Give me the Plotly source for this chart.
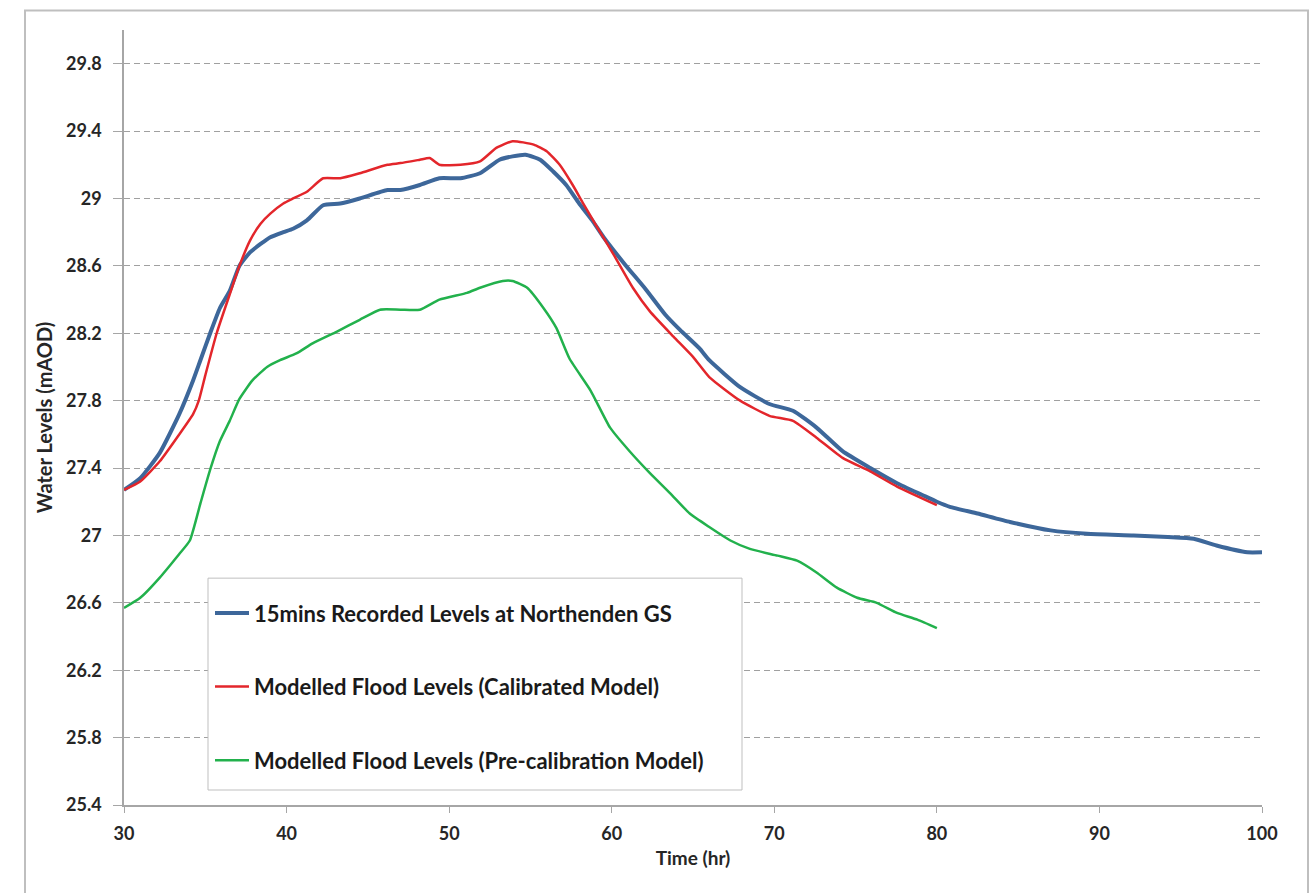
import plotly.graph_objects as go

# ---- data ----
rec_t = [30, 31, 32.2, 33.4, 34.25, 34.7, 35.3, 35.9, 36.5, 37.1, 37.75, 38.4, 39.0, 39.8,
         40.4, 41.25, 42.25, 43.3, 44.5, 46.2, 47.0, 48.2, 49.4, 50.7, 51.9, 53.1, 53.9,
         54.7, 55.6, 56.4, 57.2, 58.0, 58.8, 59.5, 60.8, 62.1, 63.3, 64.2, 65.4, 66.0,
         67.9, 69.7, 71.15, 72.6, 74.2, 75.9, 77.55, 79.1, 80.0, 80.8, 82.5, 84.5, 87.0,
         89.25, 92.1, 94.2, 95.8, 97.2, 99.1, 100]
rec_v = [27.27, 27.34, 27.49, 27.72, 27.92, 28.04, 28.20, 28.35, 28.45, 28.60, 28.68, 28.73,
         28.77, 28.80, 28.82, 28.87, 28.96, 28.97, 29.00, 29.05, 29.05, 29.08, 29.12, 29.12,
         29.15, 29.23, 29.25, 29.26, 29.23, 29.16, 29.08, 28.97, 28.87, 28.77, 28.61, 28.46,
         28.31, 28.22, 28.11, 28.04, 27.88, 27.78, 27.74, 27.64, 27.50, 27.40, 27.31, 27.24,
         27.20, 27.17, 27.13, 27.08, 27.03, 27.01, 27.00, 26.99, 26.98, 26.94, 26.90, 26.90]

cal_t = [30, 31, 32.2, 33.4, 34.25, 34.6, 35.0, 35.7, 36.5, 37.1, 37.75, 38.4, 39.0, 39.8,
         40.4, 41.25, 42.25, 43.3, 44.5, 46.2, 47.0, 48.2, 48.8, 49.4, 50.7, 51.9, 52.9,
         53.9, 55.2, 56.0, 56.8, 57.6, 58.25, 59.1, 60.1, 61.3, 62.35, 63.8, 65.0, 66.0,
         67.9, 69.7, 71.15, 72.6, 74.2, 75.9, 77.55, 80.0]
cal_v = [27.27, 27.32, 27.44, 27.60, 27.72, 27.80, 27.95, 28.20, 28.43, 28.60, 28.75, 28.85,
         28.91, 28.97, 29.00, 29.04, 29.12, 29.12, 29.15, 29.20, 29.21, 29.23, 29.24, 29.20,
         29.20, 29.22, 29.30, 29.34, 29.32, 29.28, 29.20, 29.08, 28.97, 28.83, 28.67, 28.47,
         28.33, 28.18, 28.06, 27.94, 27.80, 27.71, 27.68, 27.58, 27.46, 27.38, 27.29, 27.18]

pre_t = [30, 31.0, 32.2, 33.4, 34.05, 34.7, 35.3, 35.9, 36.5, 37.1, 37.9, 38.8, 39.6, 40.6,
         41.6, 43.1, 44.5, 45.75, 47.0, 48.2, 49.4, 51.1, 51.9, 53.3, 53.9, 54.8, 55.8,
         56.6, 57.4, 58.7, 59.9, 61.1, 62.35, 63.6, 64.8, 66.0, 67.3, 68.5, 70.2, 71.4,
         72.6, 73.85, 75.1, 76.3, 77.55, 78.8, 80.0]
pre_v = [26.57, 26.63, 26.75, 26.89, 26.97, 27.19, 27.39, 27.56, 27.68, 27.81, 27.92, 28.00,
         28.04, 28.08, 28.14, 28.21, 28.28, 28.34, 28.34, 28.34, 28.40, 28.44, 28.47, 28.51,
         28.51, 28.47, 28.35, 28.23, 28.05, 27.86, 27.64, 27.50, 27.37, 27.25, 27.13, 27.05,
         26.97, 26.92, 26.88, 26.85, 26.78, 26.69, 26.63, 26.60, 26.54, 26.50, 26.45]

y_ticks = [25.4, 25.8, 26.2, 26.6, 27.0, 27.4, 27.8, 28.2, 28.6, 29.0, 29.4, 29.8]
y_labels = ["25.4", "25.8", "26.2", "26.6", "27", "27.4", "27.8", "28.2", "28.6", "29", "29.4", "29.8"]
x_ticks = [30, 40, 50, 60, 70, 80, 90, 100]

names = ["15mins Recorded Levels at Northenden GS",
         "Modelled Flood Levels (Calibrated Model)",
         "Modelled Flood Levels (Pre-calibration Model)"]

FONT = "Lato"
TXT = "#262626"
fig = go.Figure()
fig.add_trace(go.Scatter(x=rec_t, y=rec_v, mode="lines", name=names[0], legendgroup="a",
                         line=dict(color="#3D679A", width=4, shape="spline", smoothing=0.5)))
fig.add_trace(go.Scatter(x=cal_t, y=cal_v, mode="lines", name=names[1], legendgroup="b",
                         line=dict(color="#E3262B", width=2.5, shape="spline", smoothing=0.5)))
fig.add_trace(go.Scatter(x=pre_t, y=pre_v, mode="lines", name=names[2], legendgroup="c",
                         line=dict(color="#22B14C", width=2.5, shape="spline", smoothing=0.5)))

L, R, T, B = 124, 54, 29.5, 88
W, H = 1316, 893
pw, ph = W - L - R, H - T - B

def px(xp):
    return (xp - L) / pw

def py(yp):
    return (H - B - yp) / ph

fig.update_layout(
    width=W, height=H,
    margin=dict(l=L, r=R, t=T, b=B),
    paper_bgcolor="white", plot_bgcolor="white",
    font=dict(family=FONT, color=TXT),
    showlegend=True,
    legend=dict(
        x=px(210), y=py(592), xanchor="left", yanchor="top",
        borderwidth=0, bgcolor="rgba(0,0,0,0)",
        font=dict(family=FONT, size=22, weight="bold", color="#1a1a1a"),
        tracegroupgap=42, itemwidth=34,
    ),
    xaxis=dict(
        range=[30, 100], tickvals=x_ticks, showgrid=False, zeroline=False,
        showline=True, linecolor="#A6A6A6", linewidth=1.5,
        ticks="outside", ticklen=6, tickcolor="#A6A6A6", ticklabelstandoff=6,
        tickfont=dict(family=FONT, size=18, weight="bold", color=TXT),
        title=dict(text="Time (hr)", font=dict(family=FONT, size=19, weight="bold", color=TXT),
                   standoff=8),
    ),
    yaxis=dict(
        range=[25.4, 30.0], tickvals=y_ticks, ticktext=y_labels,
        showgrid=True, gridcolor="#A0A0A0", gridwidth=1, griddash="6px,4px",
        zeroline=False, showline=True, linecolor="#A6A6A6", linewidth=1.5,
        ticks="outside", ticklen=9, tickcolor="#A6A6A6", ticklabelstandoff=8,
        tickfont=dict(family=FONT, size=18, weight="bold", color=TXT),
        title=dict(text="Water Levels (mAOD)",
                   font=dict(family=FONT, size=20, weight="bold", color=TXT),
                   standoff=8),
    ),
    shapes=[
        dict(type="rect", xref="paper", yref="paper",
             x0=px(25), x1=px(1308), y0=py(905), y1=py(10),
             line=dict(color="#BFBFBF", width=2), fillcolor="rgba(0,0,0,0)", layer="below"),
        dict(type="rect", xref="paper", yref="paper",
             x0=px(208), x1=px(742), y0=py(790), y1=py(578),
             line=dict(color="#BFBFBF", width=1), fillcolor="white", layer="above"),
    ],
)

fig.write_html("out.html")
